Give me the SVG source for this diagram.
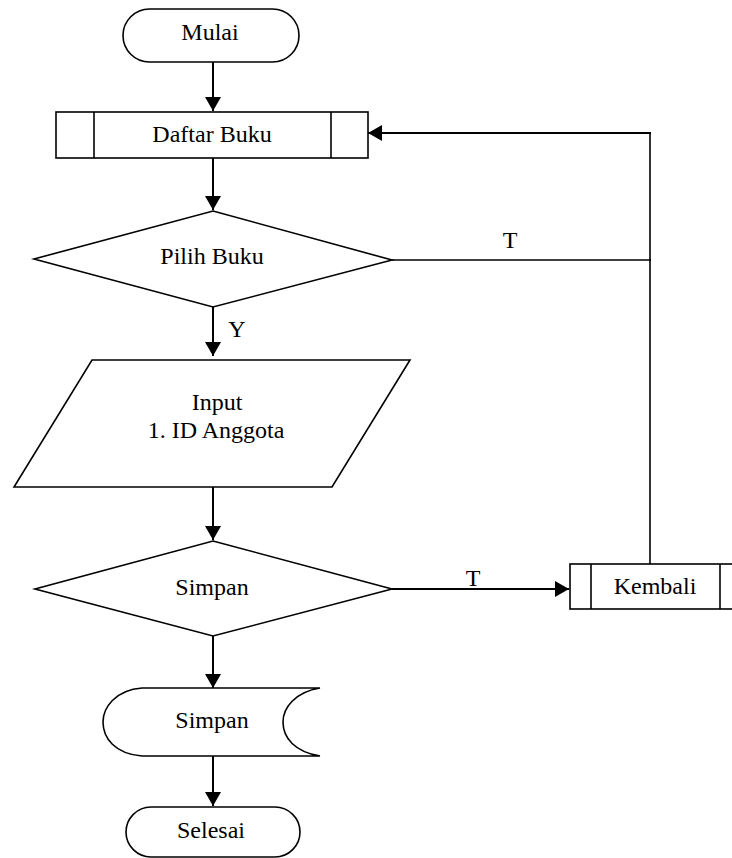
<svg xmlns="http://www.w3.org/2000/svg" width="732" height="858" viewBox="0 0 732 858">
<defs>
<style>
.s{fill:#fff;stroke:#000;stroke-width:1.6}
.c{fill:none;stroke:#000;stroke-width:2}
.t{fill:none;stroke:#000;stroke-width:1.6}
text{font-family:"Liberation Serif","Times New Roman",serif;font-size:24px;fill:#000;text-anchor:middle}
</style>
<marker id="ah" markerWidth="16" markerHeight="16" refX="14" refY="8" orient="auto" markerUnits="userSpaceOnUse">
<path d="M0,0 L14,8 L0,16 Z" fill="#000"/>
</marker>
</defs>
<rect width="732" height="858" fill="#fff"/>
<g id="connectors">
<line class="c" x1="213" y1="62" x2="213" y2="111" marker-end="url(#ah)"/>
<line class="c" x1="213" y1="158" x2="213" y2="210" marker-end="url(#ah)"/>
<line class="c" x1="213" y1="307" x2="213" y2="356" marker-end="url(#ah)"/>
<line class="c" x1="213" y1="487" x2="213" y2="540" marker-end="url(#ah)"/>
<line class="c" x1="213" y1="636" x2="213" y2="688" marker-end="url(#ah)"/>
<line class="c" x1="213" y1="756" x2="213" y2="806" marker-end="url(#ah)"/>
<line class="t" x1="392" y1="260" x2="651" y2="260"/>
<line class="t" x1="650" y1="564" x2="650" y2="133"/>
<line class="c" x1="651" y1="133" x2="368" y2="133" marker-end="url(#ah)"/>
<line class="c" x1="392" y1="589" x2="569" y2="589" marker-end="url(#ah)"/>
<text x="510" y="248">T</text>
<text x="237" y="337">Y</text>
<text x="473" y="586">T</text>
</g>
<g id="mulai">
<rect class="s" x="123" y="9" width="176" height="53" rx="26.5"/>
<text x="210" y="40">Mulai</text>
</g>
<g id="daftar-buku">
<rect class="s" x="56" y="112" width="312" height="46"/>
<line class="t" x1="94" y1="112" x2="94" y2="158"/>
<line class="t" x1="331" y1="112" x2="331" y2="158"/>
<text x="212" y="142">Daftar Buku</text>
</g>
<g id="pilih-buku">
<polygon class="s" points="213,211 392,260 213,307 34,259"/>
<text x="212" y="264">Pilih Buku</text>
</g>
<g id="input">
<polygon class="s" points="92,360 410,360 332,487 14,487"/>
<text x="217" y="410">Input</text>
<text x="216" y="438">1. ID Anggota</text>
</g>
<g id="simpan-decision">
<polygon class="s" points="213,541 392,589 213,636 35,589"/>
<text x="212" y="595">Simpan</text>
</g>
<g id="kembali">
<rect class="s" x="570" y="564" width="172" height="45"/>
<line class="t" x1="591" y1="564" x2="591" y2="609"/>
<line class="t" x1="720" y1="564" x2="720" y2="609"/>
<text x="655" y="594">Kembali</text>
</g>
<g id="simpan-store">
<path class="s" d="M142,688 L320,688 C295,692 283,708 283,722 C283,738 295,752 320,756 L142,756 C115,754 103,738 103,722 C103,708 115,690 142,688 Z"/>
<text x="212" y="728">Simpan</text>
</g>
<g id="selesai">
<rect class="s" x="126" y="807" width="174" height="50" rx="25"/>
<text x="211" y="838">Selesai</text>
</g>
</svg>
